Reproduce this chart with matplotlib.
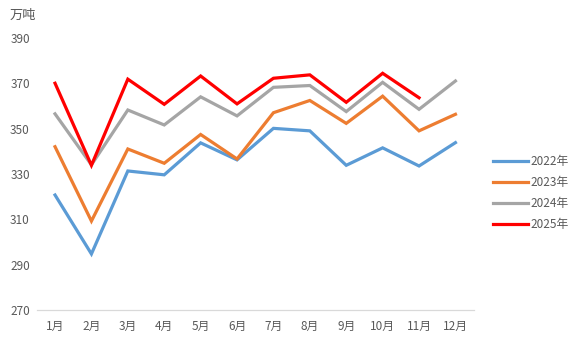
import matplotlib.pyplot as plt

plt.rcParams['font.family'] = ['Noto Sans CJK SC', 'DejaVu Sans']

months = ["1月", "2月", "3月", "4月", "5月", "6月", "7月", "8月", "9月", "10月", "11月", "12月"]
y2022 = [320.7, 294.7, 331.3, 329.6, 343.7, 336.2, 350.1, 349.0, 333.8, 341.5, 333.5, 343.8]
y2023 = [342.0, 309.2, 341.0, 334.7, 347.4, 336.6, 357.0, 362.4, 352.3, 364.3, 349.0, 356.3]
y2024 = [356.5, 334.0, 358.2, 351.6, 364.0, 355.6, 368.2, 369.0, 357.5, 370.4, 358.5, 371.0]
y2025 = [370.0, 333.8, 371.8, 360.7, 373.2, 360.9, 372.2, 373.7, 361.6, 374.4, 363.6]

series = [
    ("2022年", y2022, "#5B9BD5"),
    ("2023年", y2023, "#ED7D31"),
    ("2024年", y2024, "#A5A5A5"),
    ("2025年", y2025, "#FF0000"),
]

text_color = "#595959"

fig = plt.figure(figsize=(5.71, 3.51), dpi=100)
ax = fig.add_axes([0.0645, 0.117, 0.765, 0.775])

x = list(range(len(months)))
for label, vals, color in series:
    ax.plot(x[:len(vals)], vals, color=color, linewidth=2.3, label=label,
            solid_joinstyle="miter")

ax.set_xlim(-0.5, len(months) - 0.5)
ax.set_ylim(270, 390)
ax.set_yticks(range(270, 391, 20))
ax.set_xticks(x)
ax.set_xticklabels(months)
ax.tick_params(axis="both", length=0, labelsize=8.5, colors=text_color)
ax.tick_params(axis="y", pad=5)
ax.tick_params(axis="x", pad=7)

for side in ["top", "right", "left"]:
    ax.spines[side].set_visible(False)
ax.spines["bottom"].set_color("#D9D9D9")
ax.spines["bottom"].set_linewidth(0.9)

fig.text(0.016, 0.955, "万吨", fontsize=9.5, color=text_color, va="center", ha="left")

ax.legend(loc="center left", bbox_to_anchor=(0.856, 0.45),
          bbox_transform=fig.transFigure, borderaxespad=0, frameon=False,
          fontsize=8.5, labelcolor=text_color, handlelength=2.9,
          handletextpad=0.2, labelspacing=0.7)

fig.savefig("out.png", dpi=100)
